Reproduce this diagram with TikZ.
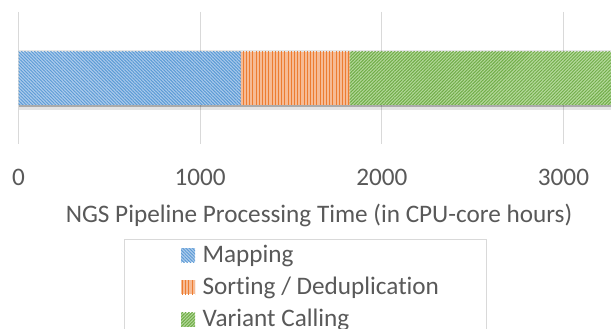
\documentclass[tikz,border=0pt]{standalone}
\usepackage{fontspec}
\setmainfont{Carlito}[Ligatures=NoCommon]
\usepackage{xcolor}
\usepackage{tikz}
\usetikzlibrary{
	patterns.meta,
	positioning
}

\definecolor{mapblue}{HTML}{5B9BD5}
\definecolor{mapbluebg}{HTML}{ADCBEC}
\definecolor{sortorange}{HTML}{ED7D31}
\definecolor{sortorangebg}{HTML}{F6BB95}
\definecolor{varigreen}{HTML}{70AD47}
\definecolor{varigreenbg}{HTML}{B5D89C}
\definecolor{gridgray}{HTML}{D9D9D9}
\definecolor{textgray}{HTML}{595959}

\tikzset{
	gridline/.style={gridgray, line width=1pt},
	label text/.style={text=textgray, inner sep=0pt, font=\fontsize{25.2}{30}\selectfont},
	mapfill/.style={fill=mapbluebg, postaction={pattern={Lines[angle=-45,distance=2.3pt,line width=1pt]}, pattern color=mapblue}},
	sortfill/.style={fill=sortorangebg, postaction={pattern={Lines[angle=90,distance=3.2pt,line width=0.9pt]}, pattern color=sortorange}},
	varifill/.style={fill=varigreenbg, postaction={pattern={Lines[angle=45,distance=2.3pt,line width=1pt]}, pattern color=varigreen}},
	swatch/.style={minimum width=14pt, minimum height=14pt, inner sep=0pt, anchor=south west}
}

\begin{document}
\begin{tikzpicture}[x=1pt, y=1pt]
		\useasboundingbox[fill=white] (0,0) rectangle (611,-329);
		% grid, bars and tick labels in data units
		\begin{scope}[xshift=18.5pt, x=0.18166pt]
			\foreach \v in {0,1000,2000,3000} {
				\draw[gridline] (\v,-12) -- (\v,-144);
				\node[label text, anchor=base] (tick\v) at (\v,-185) {\v};
			}
			% shadow under the bar
			\fill[black, opacity=0.10] (0,-50) rectangle (3500,-110.5);
			\fill[black, opacity=0.25] (0,-54) rectangle (3500,-107.5);
			% stacked bar
			\path[mapfill] (0,-51.7) rectangle (1224,-104.7);
			\path[sortfill] (1224,-51.7) rectangle (1823,-104.7);
			\path[varifill] (1823,-51.7) rectangle (3500,-104.7);
		\end{scope}
		\node[label text, anchor=base] (title) at (319,-222) {NGS Pipeline Processing Time (in CPU-core hours)};
		% legend
		\draw[gridline] (124,-239) rectangle (486,-345);
		\node[swatch, mapfill] (swmap) at (181,-262.3) {};
		\node[swatch, sortfill] (swsort) at (181,-294.3) {};
		\node[swatch, varifill] (swvari) at (181,-326.7) {};
		\node[label text, right=7pt of swmap.south east, anchor=base west] (lgmap) {Mapping};
		\node[label text, right=7pt of swsort.south east, anchor=base west] (lgsort) {Sorting / Deduplication};
		\node[label text, right=7pt of swvari.south east, anchor=base west] (lgvari) {Variant Calling};
	\end{tikzpicture}
\end{document}
